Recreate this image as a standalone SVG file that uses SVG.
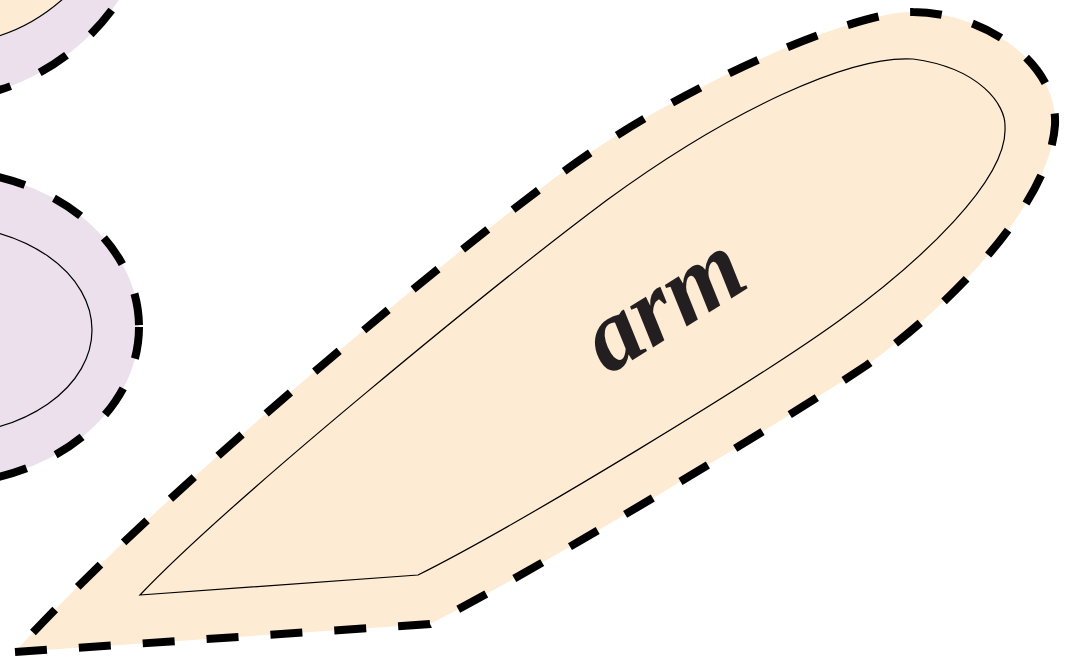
<svg xmlns="http://www.w3.org/2000/svg" width="1078" height="662" viewBox="0 0 1078 662">
  <style>
    .outer { stroke: #000; stroke-width: 8; stroke-dasharray: 32 32; }
    .inner { fill: none; stroke: #000; stroke-width: 1.2; }
    .peach { fill: #FDEBD3; }
    .lav { fill: #EBE0EC; }
    .label { font-family: "Liberation Serif", "DejaVu Serif", serif; font-style: italic; font-weight: bold; fill: #231F20; }
  </style>
  <rect width="1078" height="662" fill="#fff"/>
  <g id="node-topleft">
    <path class="lav" d="M -20 95 C 30 85 90 50 125 -10 L -20 -10 Z"/>
    <path class="outer" fill="none" d="M -20 95 C 30 85 90 50 125 -10"/>
    <path class="peach" d="M -5 37 C 20 30 45 15 64 -2 L -5 -2 Z"/>
    <path class="inner" d="M -5 37 C 20 30 45 15 64 -2"/>
  </g>
  <g id="node-left">
    <ellipse class="lav outer" cx="-60" cy="327" rx="199" ry="157"/>
    <ellipse class="inner" cx="-60" cy="330" rx="152" ry="105"/>
  </g>
  <g id="node-arm">
    <path class="peach outer" d="M 15 652 L 430 624 L 455 611 C 555 558 770 430 867 365 C 960 298 1050 200 1055 125 C 1058 60 980 12 913 12 C 860 10 690 80 570 167 C 470 238 160 492 15 652 Z"/>
    <path class="inner" d="M 140 595 L 418 575 C 520 524 760 378 840 320 C 920 262 1008 180 1005 127 C 1006 105 980 68 913 59 C 850 55 730 110 607 200 C 500 280 230 500 140 595 Z"/>
    <text class="label" font-size="102" text-anchor="middle" transform="translate(668,311) rotate(-32)" x="0" y="23">arm</text>
  </g>
  <g id="connectors"/>
</svg>
